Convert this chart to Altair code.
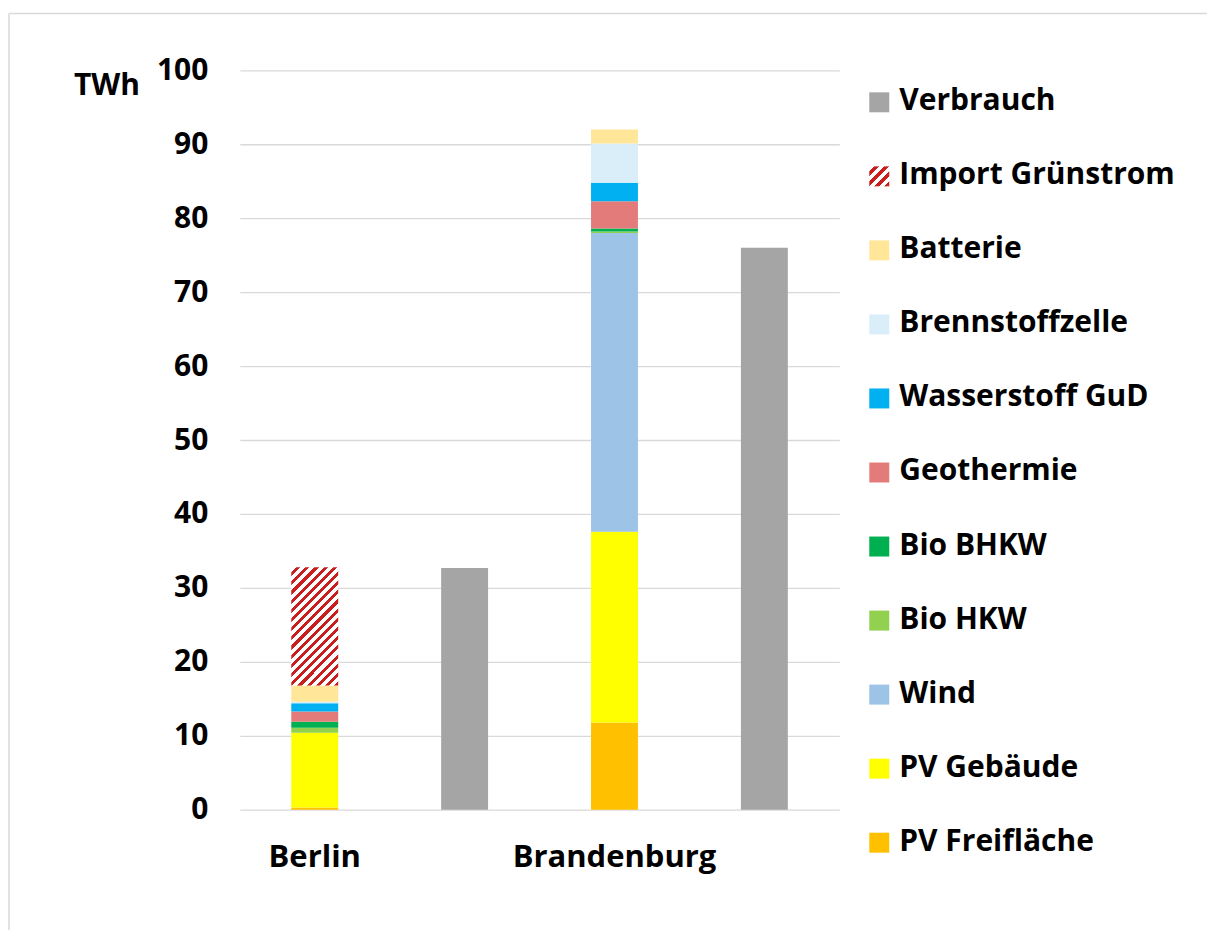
import json
import altair as alt
import pandas as pd

# ---------------- data ----------------
categories = ["Berlin", "Verbrauch Berlin", "Brandenburg", "Verbrauch Brandenburg"]
x_labels = ["Berlin", "", "Brandenburg", ""]

stack_series = ["PV Freifläche", "PV Gebäude", "Wind", "Bio HKW", "Bio BHKW",
                "Geothermie", "Wasserstoff GuD", "Brennstoffzelle", "Batterie",
                "Import Grünstrom"]
berlin_values = [0.3, 10.1, 0.0, 0.7, 0.8, 1.4, 1.1, 0.2, 2.2, 16.0]
brandenburg_values = [11.8, 25.8, 40.4, 0.2, 0.4, 3.7, 2.5, 5.3, 1.9, 0.0]
verbrauch_values = [32.7, 76.0]

legend_names = ["Verbrauch", "Import Grünstrom", "Batterie", "Brennstoffzelle",
                "Wasserstoff GuD", "Geothermie", "Bio BHKW", "Bio HKW", "Wind",
                "PV Gebäude", "PV Freifläche"]
legend_colors = ["#A5A5A5", "#C81E1E", "#FFE699", "#D9EEF8", "#00B0F0",
                 "#E47B7B", "#00B050", "#92D050", "#9DC3E6", "#FFFF00", "#FFC000"]
y_ticks = [0, 10, 20, 30, 40, 50, 60, 70, 80, 90, 100]

rows = []
for cat, vals in [("Berlin", berlin_values), ("Brandenburg", brandenburg_values)]:
    for i, (s, v) in enumerate(zip(stack_series, vals)):
        rows.append({"cat": cat, "series": s, "value": v, "order": i})
for cat, v in zip(["Verbrauch Berlin", "Verbrauch Brandenburg"], verbrauch_values):
    rows.append({"cat": cat, "series": "Verbrauch", "value": v, "order": 0})
df = pd.DataFrame(rows)
legend_df = pd.DataFrame({"series": legend_names})

FONT = "Open Sans"
RED = "#C81E1E"
WHITE = "#FFFFFF"


def hatch(w, h, n, frac):
    k = (w + h) / (w * w + h * h)
    stops = []
    for i in range(n):
        a = i / n
        b = (i + frac) / n
        c = (i + 1) / n
        stops += [{"offset": a, "color": WHITE}, {"offset": b, "color": WHITE},
                  {"offset": b, "color": RED}, {"offset": c, "color": RED}]
    return {"gradient": "linear", "x1": 0, "y1": 0, "x2": k * w, "y2": k * h,
            "stops": stops}


bar_hatch = hatch(47, 118.4, 18, 0.55)
icon_hatch = hatch(20, 20, 4, 0.5)

W, H = 600, 740
color_scale = alt.Scale(domain=legend_names, range=legend_colors)
label_expr = "%s[indexof(%s, datum.value)]" % (json.dumps(x_labels), json.dumps(categories))

bars = alt.Chart(df).transform_stack(
    stack="value", groupby=["cat"], as_=["y0", "y1"],
    sort=[alt.SortField("order", order="ascending")]
).mark_bar().encode(
    x=alt.X("cat:N", scale=alt.Scale(domain=categories, paddingInner=0.687, paddingOuter=0.3435),
            axis=alt.Axis(title=None, labelExpr=label_expr, labelAngle=0, ticks=False,
                          domain=False, labelPadding=33, labelFontSize=31, labelFont=FONT,
                          labelFontWeight="bold", labelColor="#000000", labelLimit=0)),
    y=alt.Y("y0:Q", scale=alt.Scale(domain=[0, 100], nice=False),
            axis=alt.Axis(title=None, values=y_ticks, ticks=False, domain=False,
                          labelPadding=32, labelFontSize=30, labelFont=FONT,
                          labelFontWeight="bold", labelColor="#000000",
                          gridColor="#D9D9D9", gridWidth=1.3)),
    y2="y1:Q",
    fill=alt.condition(alt.datum.series == "Import Grünstrom", alt.value(bar_hatch),
                       alt.Fill("series:N", scale=color_scale, legend=None)),
)

leg_y = alt.Y("series:N", scale=alt.Scale(domain=legend_names, range=[32, 773], padding=0),
              axis=None)
leg_sq = alt.Chart(legend_df).mark_square(size=400, opacity=1).encode(
    y=leg_y,
    x=alt.value(640),
    fill=alt.condition(alt.datum.series == "Import Grünstrom", alt.value(icon_hatch),
                       alt.Fill("series:N", scale=color_scale, legend=None)),
)
leg_tx = alt.Chart(legend_df).mark_text(
    align="left", baseline="middle", font=FONT, fontWeight="bold", fontSize=30,
    color="#000000", dy=-1
).encode(y=leg_y, x=alt.value(660), text="series:N")

unit = alt.Chart(pd.DataFrame({"t": ["TWh"]})).mark_text(
    align="center", baseline="middle", font=FONT, fontWeight="bold", fontSize=30,
    color="#000000"
).encode(x=alt.value(-133), y=alt.value(16), text="t:N")

dummy = pd.DataFrame({"a": [0]})
border_top = alt.Chart(dummy).mark_rule(color="#D9D9D9", strokeWidth=1.5).encode(
    x=alt.value(-231), x2=alt.value(975), y=alt.value(-57))
border_left = alt.Chart(dummy).mark_rule(color="#D9D9D9", strokeWidth=1.5).encode(
    x=alt.value(-231), y=alt.value(-57), y2=alt.value(870))

chart = alt.layer(border_top, border_left, bars, leg_sq, leg_tx, unit).resolve_scale(
    y="independent"
).properties(
    width=W, height=H,
    background="#FFFFFF",
    autosize=alt.AutoSizeParams(type="none"),
    padding={"left": 232, "top": 62, "right": 368, "bottom": 120},
).configure_view(strokeWidth=0, strokeOpacity=0)

chart.save("out.html", embed_options={"renderer": "svg", "actions": False})
